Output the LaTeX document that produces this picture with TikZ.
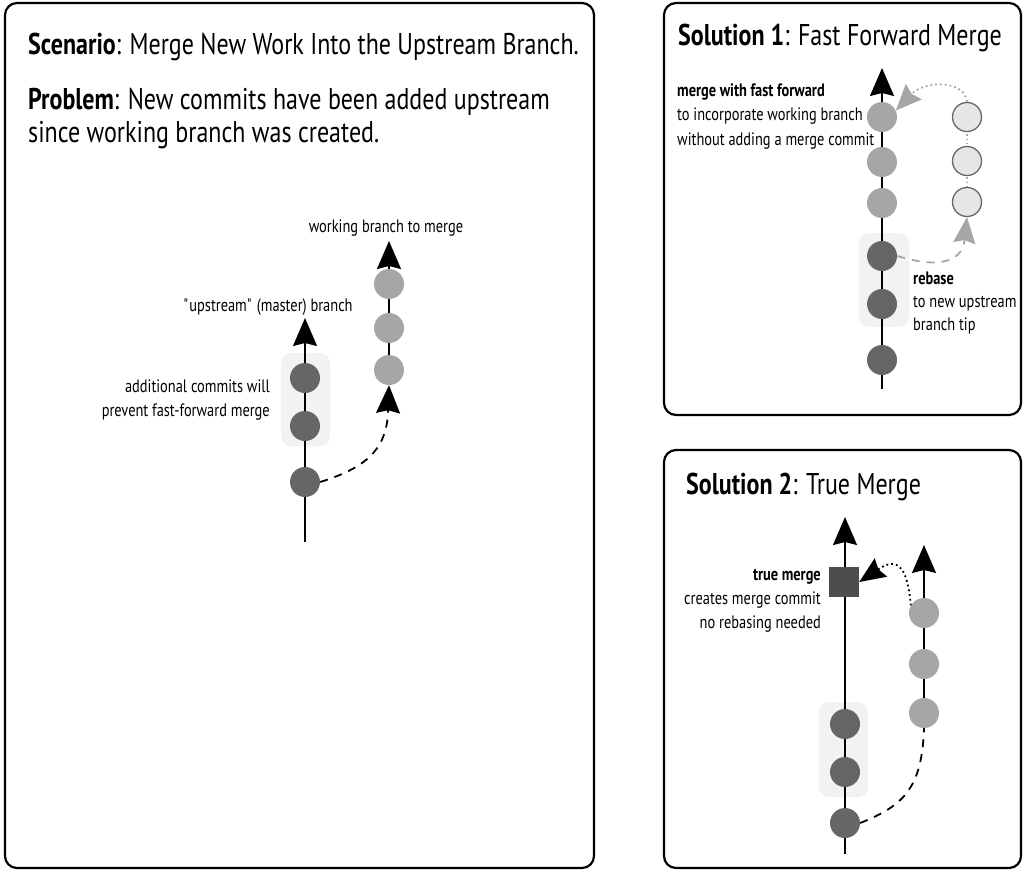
\documentclass[tikz,border=0pt]{standalone}
\usepackage{fontspec}
\setmainfont{PT Sans}[FakeStretch=0.80]
\usetikzlibrary{arrows.meta,backgrounds}
\definecolor{darkc}{HTML}{666666}
\definecolor{lightc}{HTML}{A6A6A6}
\definecolor{hilite}{HTML}{F2F2F2}
\definecolor{ghost}{HTML}{E6E6E6}
\definecolor{sqc}{HTML}{4D4D4D}
\tikzset{
  panel/.style={draw=black, line width=2.2pt, rounded corners=12pt},
  darkcommit/.style={circle, fill=darkc, minimum size=30pt, inner sep=0pt},
  lightcommit/.style={circle, fill=lightc, minimum size=30pt, inner sep=0pt},
  ghostcommit/.style={circle, fill=ghost, draw=darkc, line width=1.3pt, minimum size=29pt, inner sep=0pt},
  mergesq/.style={rectangle, fill=sqc, minimum size=30pt, inner sep=0pt},
  hibox/.style={fill=hilite, rounded corners=10pt},
  bigtip/.style={-{Stealth[length=28pt,width=24pt,inset=3pt]}},
  branch/.style={line width=1.8pt, bigtip},
  dashlink/.style={line width=1.8pt, dash pattern=on 8pt off 7pt, bigtip},
  dotlink/.style={line width=1.8pt, dash pattern=on 1.8pt off 3pt, -{Stealth[length=26pt,width=22pt,inset=3pt]}},
  greydash/.style={draw=lightc, line width=1.8pt, dash pattern=on 8pt off 7pt, -{Stealth[length=26pt,width=22pt,inset=3pt,fill=lightc]}},
  greydot/.style={draw=lightc, line width=1.8pt, dash pattern=on 1.8pt off 3pt, -{Stealth[length=26pt,width=22pt,inset=3pt,fill=lightc]}},
  title/.style={anchor=base west, inner sep=0pt, font=\fontsize{30}{32}\selectfont},
  lbl/.style={inner sep=0pt, font=\fontsize{18}{24}\selectfont},
}
\begin{document}
\begin{tikzpicture}[x=1pt,y=-1pt]
\useasboundingbox (0,0) rectangle (1024,872);
% panels
\draw[panel] (5,3) rectangle (594,868);
\draw[panel] (664,3) rectangle (1021,415);
\draw[panel] (664,450) rectangle (1021,868);

% ---------- left panel ----------
\node[title] (t1) at (28,55) {\bfseries Scenario\mdseries: Merge New Work Into the Upstream Branch.};
\node[title] (t2) at (28,110) {\bfseries Problem\mdseries: New commits have been added upstream};
\node[title] (t3) at (28,142) {since working branch was created.};

\node[darkcommit] (a1) at (305,482) {};
\node[darkcommit] (a2) at (305,426) {};
\node[darkcommit] (a3) at (305,378) {};
\coordinate (abot) at (305,542);
\coordinate (atip) at (305,318);
\node[lightcommit] (w1) at (389,370) {};
\node[lightcommit] (w2) at (389,328) {};
\node[lightcommit] (w3) at (389,284) {};
\coordinate (wtip) at (389,241);
\begin{scope}[on background layer]
  \fill[hibox] (281,353) rectangle (330,446);
  \draw[branch] (abot) -- (atip);
  \draw[branch] (w1.center) -- (wtip);
\end{scope}
\draw[dashlink] (a1.east) .. controls (372,466) and (387,445) .. (w1.south);
\node[lbl, anchor=base] (lup) at (268,311) {\textquotedbl upstream\textquotedbl\ (master) branch};
\node[lbl, anchor=base] (lwk) at (386,232) {working branch to merge};
\node[lbl, anchor=base east] (ladd) at (270,392) {additional commits will};
\node[lbl, anchor=base east] (ladd2) at (270,416) {prevent fast-forward merge};

% ---------- solution 1 ----------
\node[title] (s1t) at (678,46) {\bfseries Solution 1\mdseries: Fast Forward Merge};
\node[lightcommit] (f1) at (882,117) {};
\node[lightcommit] (f2) at (882,162) {};
\node[lightcommit] (f3) at (882,203) {};
\node[darkcommit] (f4) at (882,256) {};
\node[darkcommit] (f5) at (882,304) {};
\node[darkcommit] (f6) at (882,360) {};
\coordinate (fbot) at (882,389);
\coordinate (ftip) at (882,68);
\node[ghostcommit] (g1) at (967,117) {};
\node[ghostcommit] (g2) at (967,161) {};
\node[ghostcommit] (g3) at (967,202) {};
\begin{scope}[on background layer]
  \fill[hibox] (859,233) rectangle (909,327);
  \draw[branch] (fbot) -- (ftip);
  \draw[draw=lightc, line width=1.3pt, dash pattern=on 1.3pt off 3pt] (g1.center) -- (g3.center);
\end{scope}
\draw[greydot] (g1.north) .. controls (965,80) and (925,80) .. (f1.25);
\draw[greydash] (f4.east) .. controls (950,272) and (963,255) .. (g3.south);
\node[lbl, anchor=base west] (m1) at (677,96) {\bfseries merge with fast forward};
\node[lbl, anchor=base west] (m2) at (677,121) {to incorporate working branch};
\node[lbl, anchor=base west] (m3) at (677,145) {without adding a merge commit};
\node[lbl, anchor=base west] (r1) at (913,284) {\bfseries rebase};
\node[lbl, anchor=base west] (r2) at (913,307) {to new upstream};
\node[lbl, anchor=base west] (r3) at (913,330) {branch tip};

% ---------- solution 2 ----------
\node[title] (s2t) at (686,494) {\bfseries Solution 2\mdseries: True Merge};
\node[mergesq] (sq) at (844,582) {};
\node[darkcommit] (d3) at (845,724) {};
\node[darkcommit] (d2) at (845,772) {};
\node[darkcommit] (d1) at (845,823) {};
\coordinate (dbot) at (845,854);
\coordinate (dtip) at (845,517);
\node[lightcommit] (u1) at (924,713) {};
\node[lightcommit] (u2) at (924,664) {};
\node[lightcommit] (u3) at (924,613) {};
\coordinate (utip) at (924,545);
\begin{scope}[on background layer]
  \fill[hibox] (819,702) rectangle (868,797);
  \draw[branch] (dbot) -- (dtip);
  \draw[branch] (u1.center) -- (utip);
\end{scope}
\draw[dotlink] (u3.150) .. controls (907,562) and (895,558) .. (sq.east);
\draw[line width=1.8pt, dash pattern=on 8pt off 7pt] (d1.east) .. controls (902,806) and (922,790) .. (u1.south);
\node[lbl, anchor=base east] (q1) at (821,580) {\bfseries true merge};
\node[lbl, anchor=base east] (q2) at (821,604) {creates merge commit};
\node[lbl, anchor=base east] (q3) at (821,628) {no rebasing needed};
\end{tikzpicture}
\end{document}
